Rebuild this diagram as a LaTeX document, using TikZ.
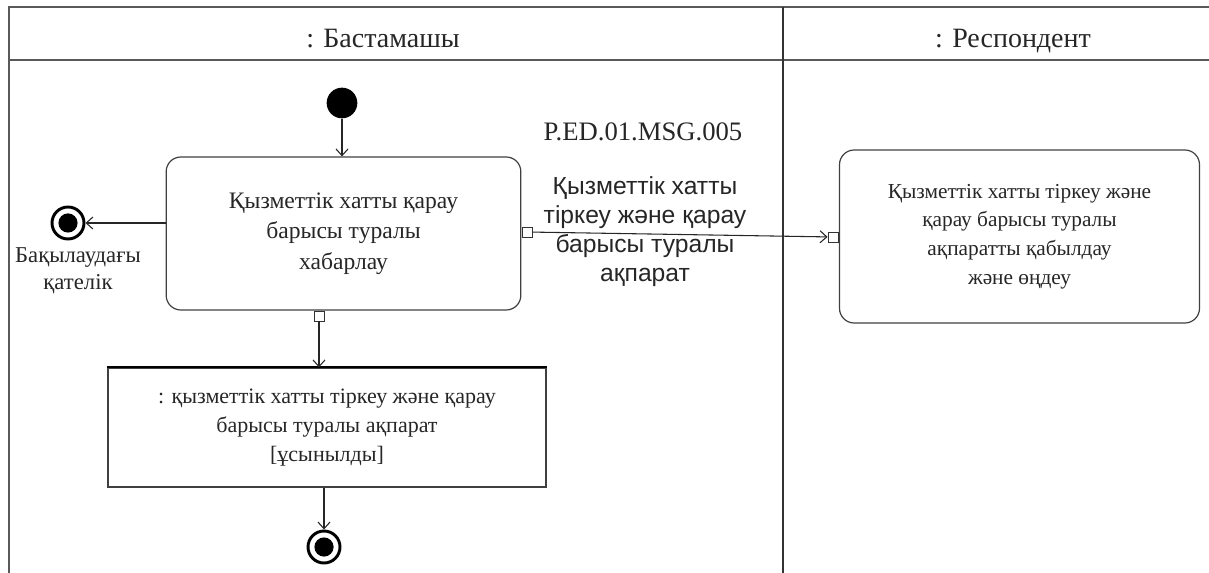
\documentclass[tikz,border=0pt]{standalone}
\usepackage{fontspec}
\setmainfont{Liberation Serif}
\newfontfamily\msgfont{Liberation Sans}
\usetikzlibrary{positioning, arrows.meta}

\begin{document}
\begin{tikzpicture}[x=0.75pt,y=-0.75pt,
    every node/.style={font=\fontsize{16.5}{22}\selectfont, text=black!85},
    action/.style={draw=black!75, line width=0.9pt, rounded corners=11pt, align=center},
    objbox/.style={draw=black!75, line width=0.9pt, align=center},
    lanetitle/.style={font=\fontsize{21}{24}\selectfont, anchor=base},
    pinbox/.style={draw=black!80, fill=white, line width=0.7pt, minimum size=7.5pt, inner sep=0pt},
    startnode/.style={circle, fill=black, minimum size=23pt, inner sep=0pt},
    endnode/.style={circle, draw=black, line width=2.2pt, minimum size=24pt, inner sep=0pt,
      path picture={\fill (path picture bounding box.center) circle (7.2pt);}}]
    \useasboundingbox (0,0) rectangle (1209,573);

    % swimlanes
    \draw[black!65, line width=1.3pt] (9,573) -- (9,7) -- (1209,7);
    \draw[black!65, line width=1.3pt] (9,60) -- (1209,60);
    \draw[black!80, line width=0.9pt] (783,7) -- (783,573);
    \node(lane1)[lanetitle] at (383,48){: Бастамашы};
    \node(lane2)[lanetitle] at (1013,48){: Респондент};

    \node(start)[startnode] at (342,103){};
    \node(notify)[action,minimum width=266pt,minimum height=114.75pt,
      font=\fontsize{17.7}{23}\selectfont] at (343.5,233.5)
      {Қызметтік хатты қарау\\барысы туралы\\хабарлау};
    \node(errend)[endnode] at (68,223){};
    \node(errlabel)[below=2pt of errend,xshift=7.5pt,align=center,
      font=\fontsize{17}{20}\selectfont]{Бақылаудағы\\қателік};
    \node(outpin)[pinbox] at (527,232){};
    \node(downpin)[pinbox] at (319,316){};

    \node(msgid)[font=\fontsize{20}{24}\selectfont] at (643,132){P.ED.01.MSG.005};
    \node(msgname)[align=center,font=\msgfont\fontsize{18.5}{21.7}\selectfont] at (645,232)
      {Қызметтік хатты\\тіркеу және қарау\\барысы туралы\\ақпарат};

    \node(receive)[action,minimum width=270pt,minimum height=129.75pt,
      font=\fontsize{16}{21.5}\selectfont] at (1019.5,236.5)
      {Қызметтік хатты тіркеу және\\қарау барысы туралы\\ақпаратты қабылдау\\және өңдеу};
    \node(inpin)[pinbox] at (833,237){};

    \node(info)[objbox,minimum width=328.5pt,minimum height=89.25pt] at (327,427.5)
      {: қызметтік хатты тіркеу және қарау\\барысы туралы ақпарат\\{[}ұсынылды{]}};
    \draw[line width=1.6pt] (info.north west) -- (info.north east);
    \node(okend)[endnode] at (324,547){};

    \path[every edge/.append style={-{Straight Barb[length=5pt,width=9pt]}, draw=black!85, line width=0.8pt}]

    (start) edge (start |- notify.north)
    (notify.west |- errend) edge (errend)
    (outpin) edge (inpin)
    (downpin) edge (downpin |- info.north)
    (info.south -| okend) edge (okend)

    ;
\end{tikzpicture}
\end{document}
